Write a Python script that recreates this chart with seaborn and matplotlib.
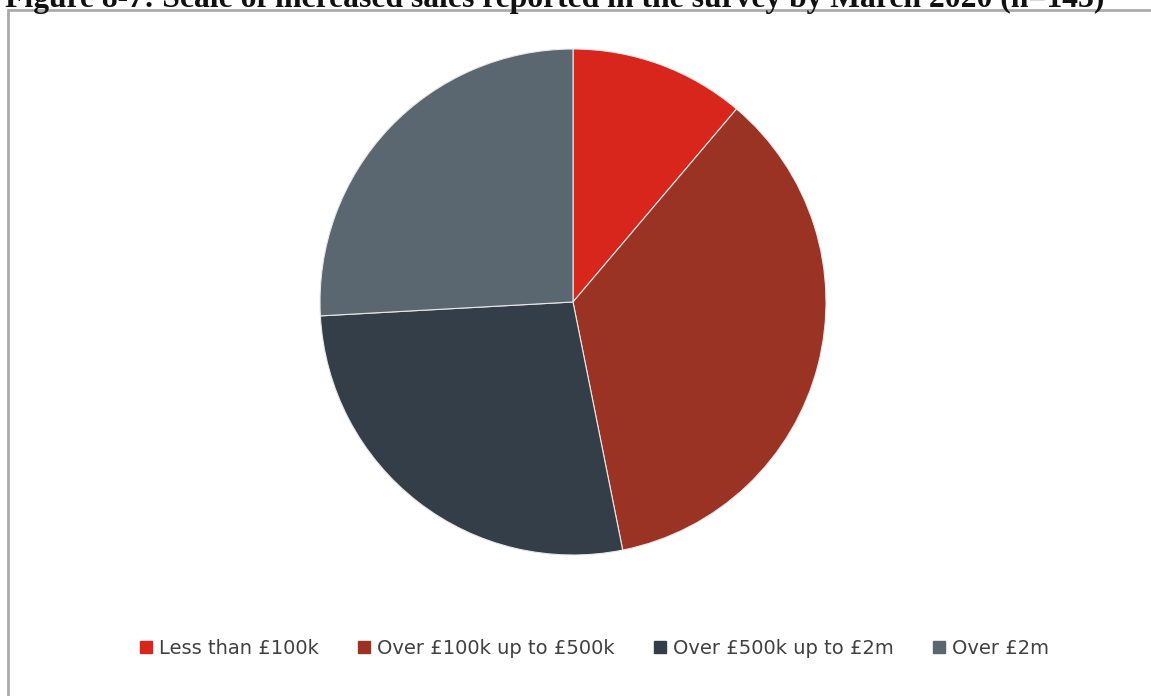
import matplotlib
matplotlib.use("Agg")
import matplotlib.pyplot as plt
from matplotlib.patches import Rectangle
from matplotlib.lines import Line2D
import seaborn as sns

# Survey responses by size of sales increase (n=143)
categories = ["Less than £100k", "Over £100k up to £500k", "Over £500k up to £2m", "Over £2m"]
counts = [16, 51, 39, 37]
colors = ["#D9261C", "#9A3324", "#333E48", "#5B6770"]

title = "Figure 8-7: Scale of increased sales reported in the survey by March 2020 (n=143)"

sns.set_theme(style="white")
plt.rcParams["font.family"] = ["DejaVu Sans"]

W, H, DPI = 1151, 696, 100
fig = plt.figure(figsize=(W / DPI, H / DPI), dpi=DPI)
fig.patch.set_facecolor("white")

# Frame around the chart area, running off the right and bottom edges
frame = Rectangle((8 / W, -0.1), 1.2, 1 - 10 / H + 0.1, transform=fig.transFigure,
                  fill=False, edgecolor="#ABABAB", linewidth=2.0, clip_on=False)
fig.patches.append(frame)

# Figure caption, partly above the top edge
fig.text(5 / W, 1 - 7 / H, title, ha="left", va="baseline",
         fontsize=22.8, fontweight="bold", family=["Liberation Serif", "DejaVu Serif"],
         color="#111111")

# Pie axes: square box centred on the pie
cx, cy, r = 573, 302, 253
ax = fig.add_axes([(cx - r) / W, 1 - (cy + r) / H, 2 * r / W, 2 * r / H])
wedges, _ = ax.pie(counts, colors=colors, startangle=90, counterclock=False,
                   radius=1.0, wedgeprops=dict(edgecolor="#E8E8E8", linewidth=0.8))
ax.set_xlim(-1.0, 1.0)
ax.set_ylim(-1.0, 1.0)
ax.set_axis_off()

handles = [Line2D([0], [0], marker="s", linestyle="none", markersize=8,
                  markerfacecolor=c, markeredgecolor=c) for c in colors]
fig.legend(handles, categories, loc="center", bbox_to_anchor=(594 / W, 1 - 648 / H),
           ncol=4, frameon=False, fontsize=14, handlelength=0.7, handletextpad=0.3,
           columnspacing=2.0, labelcolor="#404040")

fig.savefig("out.png", dpi=DPI, facecolor="white")
